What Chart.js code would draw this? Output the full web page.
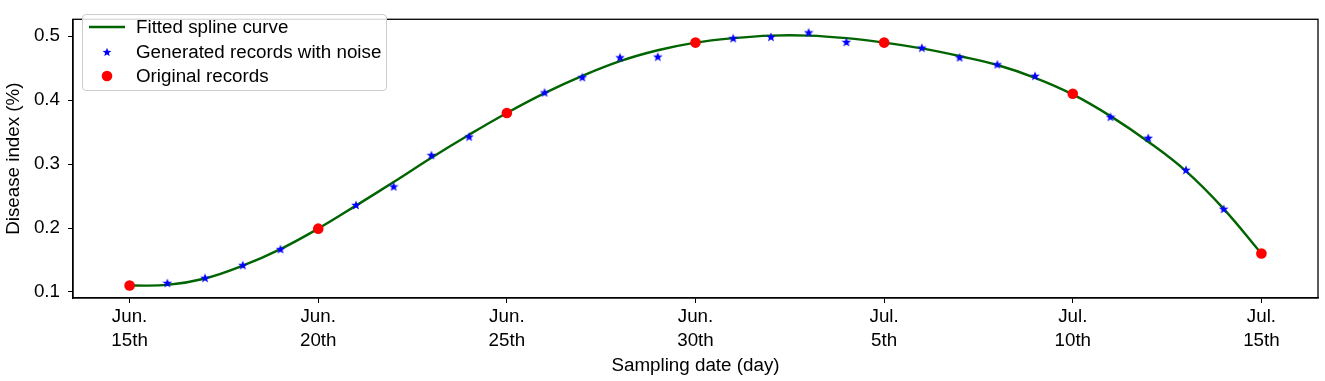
<!DOCTYPE html>
<html>
<head>
<meta charset="utf-8">
<script src="https://cdn.jsdelivr.net/npm/chart.js@4/dist/chart.umd.min.js"></script>
<style>
  html, body { margin: 0; padding: 0; background: #fff; }
  #wrap { position: relative; width: 1325px; height: 381px; }
  #legend {
    position: absolute; left: 82px; top: 14px; width: 303px; height: 75px;
    border: 1px solid #cccccc; border-radius: 4px; background: rgba(255,255,255,0.85);
    font-family: 'Liberation Sans', Arial, sans-serif; font-size: 18.8px; color: #000;
  }
  .legend-item { position: absolute; left: 0; height: 20px; line-height: 20px; white-space: nowrap; }
  .legend-item svg { position: absolute; left: 5px; top: 0; }
  .legend-item span { position: absolute; left: 53px; top: 0; }
</style>
</head>
<body>
<div id="wrap">
  <canvas id="chart" width="1325" height="381"></canvas>
  <div id="legend"></div>
</div>
<script>
// ── Data ──────────────────────────────────────────────────────────────────
const curveDays   = [0, 1, 2, 3, 4, 5, 6, 7, 8, 9, 10, 11, 12, 13, 14, 15, 16, 17, 18, 19, 20, 21, 22, 23, 24, 25, 26, 27, 28, 29, 30];
const curveValues = [0.110, 0.111, 0.121, 0.141, 0.167, 0.199, 0.235, 0.272, 0.310, 0.346, 0.380, 0.411, 0.438, 0.461, 0.478, 0.490, 0.497, 0.501, 0.501, 0.497, 0.490, 0.481, 0.469, 0.455, 0.435, 0.409, 0.375, 0.335, 0.289, 0.230, 0.160];

const noiseDays   = [1, 2, 3, 4, 6, 7, 8, 9, 11, 12, 13, 14, 16, 17, 18, 19, 21, 22, 23, 24, 26, 27, 28, 29];
const noiseValues = [0.114, 0.122, 0.142, 0.167, 0.236, 0.265, 0.314, 0.343, 0.412, 0.436, 0.467, 0.468, 0.497, 0.499, 0.506, 0.491, 0.482, 0.467, 0.456, 0.438, 0.374, 0.341, 0.291, 0.230];

const recordDays   = [0, 5, 10, 15, 20, 25, 30];
const recordValues = [0.110, 0.199, 0.380, 0.490, 0.490, 0.410, 0.160];

const xTickValues = [0, 5, 10, 15, 20, 25, 30];
const xTickLabels = [['Jun.', '15th'], ['Jun.', '20th'], ['Jun.', '25th'], ['Jun.', '30th'], ['Jul.', '5th'], ['Jul.', '10th'], ['Jul.', '15th']];
const yTickValues = [0.1, 0.2, 0.3, 0.4, 0.5];

const colors = {
  curve:  '#006400',
  noise:  '#0000ff',
  record: '#ff0000',
  axis:   '#000000'
};

const font = { family: "'Liberation Sans', Arial, sans-serif", size: 18.8 };

// ── Filled five-point star, like matplotlib's '*' marker ──────────────────
function starPoints(cx, cy, rOut, rIn) {
  const p = [];
  for (let i = 0; i < 10; i++) {
    const r = i % 2 === 0 ? rOut : rIn;
    const a = -Math.PI / 2 + i * Math.PI / 5;
    p.push([cx + r * Math.cos(a), cy + r * Math.sin(a)]);
  }
  return p;
}
function makeStar(size) {
  const c = document.createElement('canvas');
  c.width = size; c.height = size;
  const g = c.getContext('2d');
  g.fillStyle = colors.noise;
  g.beginPath();
  starPoints(size / 2, size / 2 + 0.4, size / 2, size / 4.6).forEach(([px, py], i) => {
    if (i === 0) g.moveTo(px, py); else g.lineTo(px, py);
  });
  g.closePath();
  g.fill();
  return c;
}
const starImg = makeStar(10);

const toPoints = (xs, ys) => xs.map((x, i) => ({ x: x, y: ys[i] }));

// ── Frame around the plot area ────────────────────────────────────────────
const framePlugin = {
  id: 'frame',
  afterDraw(chart) {
    const a = chart.chartArea, ctx = chart.ctx;
    ctx.save();
    ctx.strokeStyle = colors.axis;
    ctx.lineWidth = 1.3;
    ctx.strokeRect(a.left, a.top, a.right - a.left, a.bottom - a.top);
    ctx.restore();
  }
};

new Chart(document.getElementById('chart').getContext('2d'), {
  type: 'line',
  data: {
    datasets: [
      {
        label: 'Fitted spline curve',
        data: toPoints(curveDays, curveValues),
        borderColor: colors.curve,
        borderWidth: 2.4,
        pointRadius: 0,
        tension: 0.4,
        fill: false,
        order: 3
      },
      {
        label: 'Generated records with noise',
        data: toPoints(noiseDays, noiseValues),
        showLine: false,
        pointStyle: starImg,
        pointRadius: 5,
        order: 2
      },
      {
        label: 'Original records',
        data: toPoints(recordDays, recordValues),
        showLine: false,
        pointStyle: 'circle',
        pointRadius: 5.3,
        pointBackgroundColor: colors.record,
        pointBorderColor: colors.record,
        pointBorderWidth: 0,
        order: 1
      }
    ]
  },
  options: {
    responsive: false,
    devicePixelRatio: 1,
    animation: false,
    layout: { padding: { top: 6, right: 7, left: 0, bottom: 0 } },
    plugins: {
      legend: { display: false },
      tooltip: { enabled: false }
    },
    scales: {
      x: {
        type: 'linear',
        min: -1.5,
        max: 31.5,
        afterBuildTicks: axis => { axis.ticks = xTickValues.map(v => ({ value: v })); },
        afterFit: axis => { axis.height = 83; },
        ticks: {
          color: '#000',
          font: { family: font.family, size: font.size, lineHeight: '23.5px' },
          padding: 2.5,
          maxRotation: 0,
          autoSkip: false,
          callback: v => xTickLabels[xTickValues.indexOf(v)]
        },
        grid: { drawOnChartArea: false, drawTicks: true, tickLength: 5, color: colors.axis, lineWidth: 1 },
        border: { display: true, color: colors.axis, width: 1.3 },
        title: { display: true, text: 'Sampling date (day)', color: '#000', font: font, padding: { top: 0, bottom: 3.5 } }
      },
      y: {
        type: 'linear',
        min: 0.0905,
        max: 0.5265,
        afterBuildTicks: axis => { axis.ticks = yTickValues.map(v => ({ value: v })); },
        afterFit: axis => { axis.width = 73; },
        ticks: {
          color: '#000',
          font: font,
          padding: 8,
          callback: v => v.toFixed(1)
        },
        grid: { drawOnChartArea: false, drawTicks: true, tickLength: 5, color: colors.axis, lineWidth: 1 },
        border: { display: true, color: colors.axis, width: 1.3 },
        title: { display: true, text: 'Disease index (%)', color: '#000', font: font, padding: { top: 3, bottom: 0 } }
      }
    }
  },
  plugins: [framePlugin]
});

// ── HTML legend ───────────────────────────────────────────────────────────
const starSvg = starPoints(19, 10.4, 4.6, 2).map(p => p[0].toFixed(2) + ',' + p[1].toFixed(2)).join(' ');
const legendItems = [
  { label: 'Fitted spline curve', svg: `<svg width="40" height="20"><line x1="1" y1="10" x2="37" y2="10" stroke="${colors.curve}" stroke-width="2.4"/></svg>` },
  { label: 'Generated records with noise', svg: `<svg width="40" height="20"><polygon points="${starSvg}" fill="${colors.noise}"/></svg>` },
  { label: 'Original records', svg: `<svg width="40" height="20"><circle cx="19" cy="10" r="5.3" fill="${colors.record}"/></svg>` }
];
const legendTops = [2.3, 26.7, 51.3];
document.getElementById('legend').innerHTML = legendItems.map((it, i) =>
  `<div class="legend-item" style="top:${legendTops[i]}px">${it.svg}<span>${it.label}</span></div>`
).join('');
</script>
</body>
</html>
